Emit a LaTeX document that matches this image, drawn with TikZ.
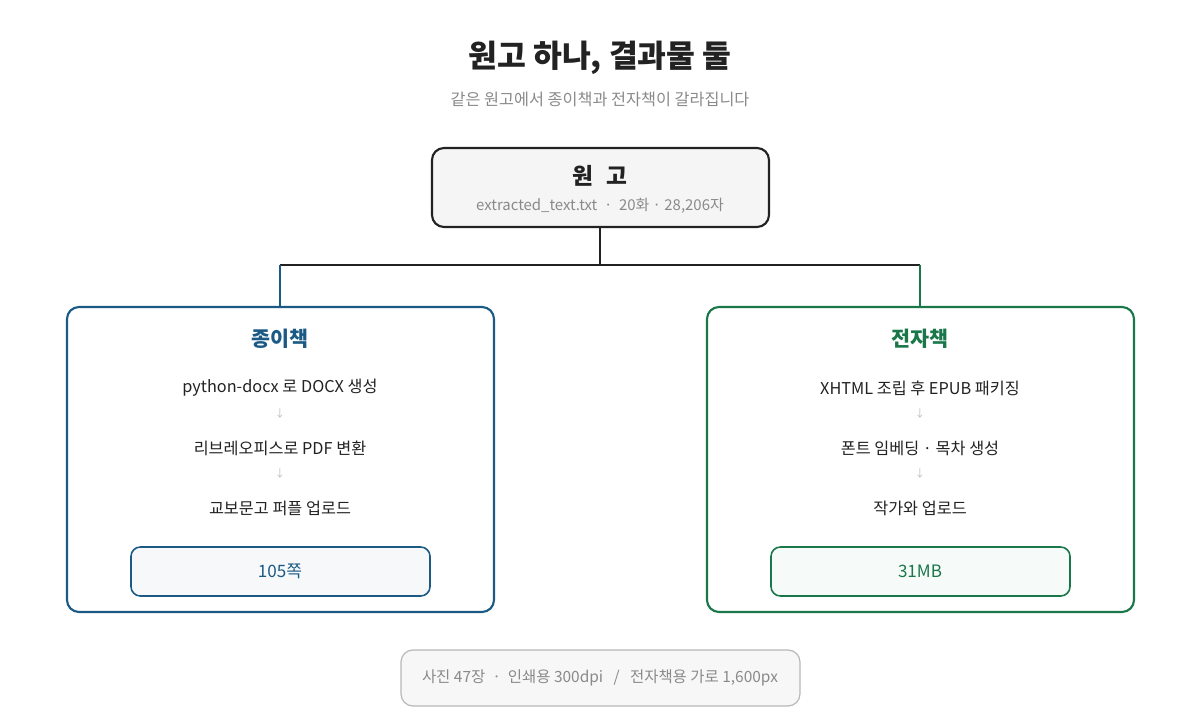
\documentclass[tikz,border=0pt]{standalone}
\usepackage{fontspec}
\setmainfont{Noto Sans CJK KR}
\definecolor{dark}{HTML}{222222}
\definecolor{bluec}{HTML}{1B5A84}
\definecolor{greenc}{HTML}{1A774A}
\definecolor{graytxt}{HTML}{8A8A8A}
\begin{document}
\begin{tikzpicture}[x=0.75pt,y=-0.75pt,
  fs/.style={font=\fontsize{#1}{#1}\selectfont},
  fsb/.style={font=\fontsize{#1}{#1}\selectfont\bfseries},
  box/.style={draw,rounded corners=9pt,line width=1.6pt},
  stp/.style={fs=12.2,text=dark},
  arr/.style={fs=8,text=black!25},
  res/.style={draw,rounded corners=7pt,line width=1.2pt}]
\useasboundingbox (0,0) rectangle (1200,720);
\node[fsb=23.5,text=dark] (title) at (600,58) {원고 하나, 결과물 둘};
\node[fs=12.2,text=graytxt] (sub) at (600,99) {같은 원고에서 종이책과 전자책이 갈라집니다};
% top box
\draw[box,fill=black!4,draw=dark] (432,148) rectangle (769,227);
\node[fsb=17,text=dark] (src) at (600,176) {원\hspace{0.6em}고};
\node[fs=11.2,text=graytxt] (srcsub) at (600,206) {extracted\_text.txt \ · \ 20화 · 28,206자};
\coordinate (top) at (600,227);
\coordinate (mid) at (600,265);
\coordinate (hl) at (280,265);
\coordinate (hr) at (920,265);
\coordinate (lb) at (280,307);
\coordinate (rb) at (920,307);
\draw[line width=1.8pt,dark] (top) -- (mid);
\draw[line width=1.8pt,dark] (hl) -- (hr);
\draw[line width=1.8pt,bluec] (hl) -- (lb);
\draw[line width=1.8pt,greenc] (hr) -- (rb);
% left
\draw[box,draw=bluec,fill=white] (67,307) rectangle (494,612);
\node[fsb=15.5,text=bluec] (lt) at (280,339) {종이책};
\node[stp] (l1) at (280,388) {python-docx 로 DOCX 생성};
\node[arr] (la1) at (280,413) {↓};
\node[stp] (l2) at (280,448) {리브레오피스로 PDF 변환};
\node[arr] (la2) at (280,473) {↓};
\node[stp] (l3) at (280,508) {교보문고 퍼플 업로드};
\draw[res,draw=bluec,fill=bluec!4] (131,547) rectangle (430,596);
\node[fs=12.8,text=bluec] (lr) at (280,571) {105쪽};
% right
\draw[box,draw=greenc,fill=white] (707,307) rectangle (1134,612);
\node[fsb=15.5,text=greenc] (rt) at (920,339) {전자책};
\node[stp] (r1) at (920,388) {XHTML 조립 후 EPUB 패키징};
\node[arr] (ra1) at (920,413) {↓};
\node[stp] (r2) at (920,448) {폰트 임베딩 · 목차 생성};
\node[arr] (ra2) at (920,473) {↓};
\node[stp] (r3) at (920,508) {작가와 업로드};
\draw[res,draw=greenc,fill=greenc!4] (771,547) rectangle (1070,596);
\node[fs=12.8,text=greenc] (rr) at (920,571) {31MB};
% bottom
\draw[rounded corners=9pt,line width=0.9pt,draw=black!28,fill=black!3] (401,650) rectangle (800,706);
\node[fs=11.6,text=graytxt] (note) at (600,678) {사진 47장 \ · \ 인쇄용 300dpi \ \ / \ \ 전자책용 가로 1,600px};
\end{tikzpicture}
\end{document}
